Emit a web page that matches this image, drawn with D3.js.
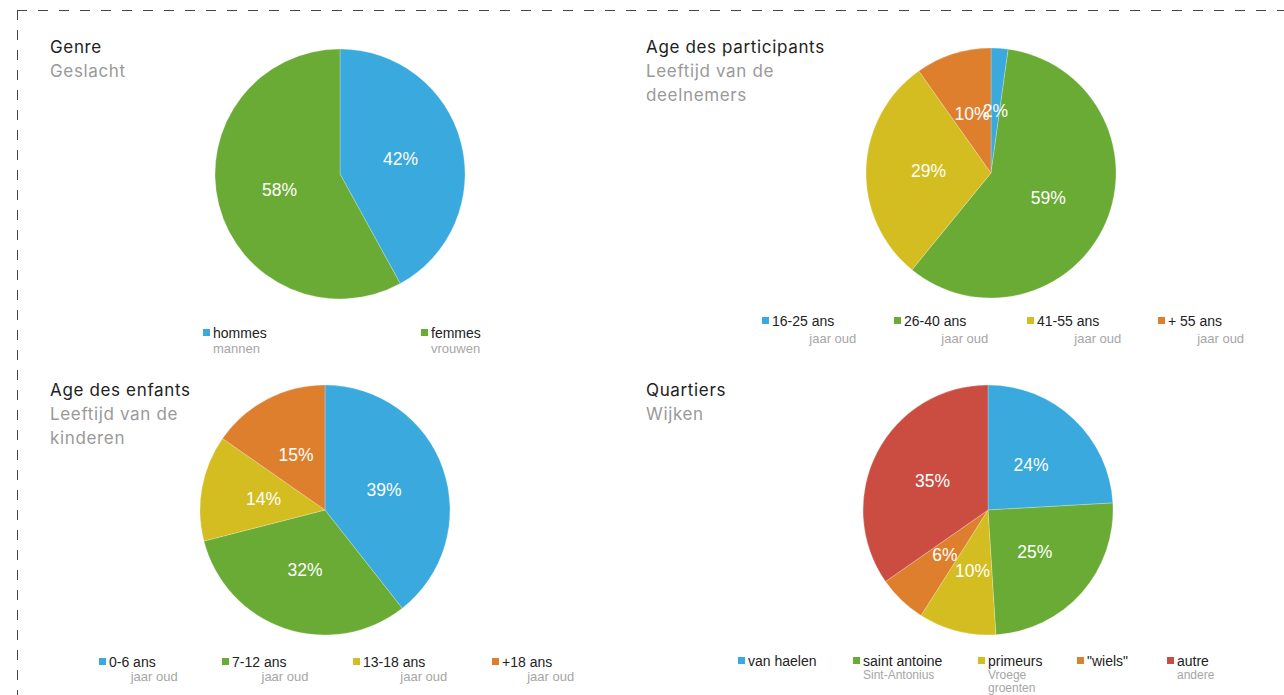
<!DOCTYPE html>
<html>
<head>
<meta charset="utf-8">
<script src="https://cdn.jsdelivr.net/npm/d3@7"></script>
<style>
  html, body { margin: 0; padding: 0; background: #fff; }
  svg { display: block; }
</style>
</head>
<body>
<svg id="chart" width="1284" height="695"></svg>
<script>
// ---------- DATA ----------
const genreLabels = ["hommes", "femmes"];
const genreSub = ["mannen", "vrouwen"];
const genreValues = [42, 58];

const participantLabels = ["16-25 ans", "26-40 ans", "41-55 ans", "+ 55 ans"];
const participantSub = ["jaar oud", "jaar oud", "jaar oud", "jaar oud"];
const participantValues = [2.2, 58.7, 29.3, 9.8];

const enfantLabels = ["0-6 ans", "7-12 ans", "13-18 ans", "+18 ans"];
const enfantSub = ["jaar oud", "jaar oud", "jaar oud", "jaar oud"];
const enfantValues = [39.4, 31.6, 13.7, 15.3];

const quartierLabels = ["van haelen", "saint antoine", "primeurs", "\"wiels\"", "autre"];
const quartierSub = [[], ["Sint-Antonius"], ["Vroege", "groenten"], [], ["andere"]];
const quartierValues = [24.1, 24.9, 10.0, 6.3, 34.7];

const palette = ["#39a9de", "#6aab35", "#d3bd20", "#de7f2d", "#cb4d41"];

// ---------- LAYOUT ----------
const charts = [
  { title: ["Genre"], sub: ["Geslacht"], tx: 50, ty: 53,
    cx: 340, cy: 174, r: 125,
    labels: genreLabels, subs: genreSub.map(s => [s]), values: genreValues,
    legendX: [203, 421], legendY: 338, subY: 353, subSize: 13, subGap: 14, subAlign: "left" },
  { title: ["Age des participants"], sub: ["Leeftijd van de", "deelnemers"], tx: 646, ty: 53,
    cx: 991, cy: 173, r: 125,
    labels: participantLabels, subs: participantSub.map(s => [s]), values: participantValues,
    legendX: [762, 894, 1027, 1158], legendY: 326, subY: 343, subSize: 13, subGap: 14, subAlign: "right" },
  { title: ["Age des enfants"], sub: ["Leeftijd van de", "kinderen"], tx: 50, ty: 396,
    cx: 325, cy: 510, r: 125,
    labels: enfantLabels, subs: enfantSub.map(s => [s]), values: enfantValues,
    legendX: [99, 222, 353, 492], legendY: 667, subY: 681, subSize: 13, subGap: 14, subAlign: "right" },
  { title: ["Quartiers"], sub: ["Wijken"], tx: 646, ty: 396,
    cx: 988, cy: 510, r: 125,
    labels: quartierLabels, subs: quartierSub, values: quartierValues,
    legendX: [738, 853, 978, 1077, 1167], legendY: 666, subY: 679, subSize: 12, subGap: 12.5, subAlign: "left" }
];

const svg = d3.select("#chart");

// dashed frame
svg.append("line").attr("x1", 17).attr("y1", 10.5).attr("x2", 1300).attr("y2", 10.5)
  .attr("stroke", "#444").attr("stroke-width", 1).attr("stroke-dasharray", "10 11");
svg.append("line").attr("x1", 17.5).attr("y1", 10).attr("x2", 17.5).attr("y2", 710)
  .attr("stroke", "#444").attr("stroke-width", 1).attr("stroke-dasharray", "10 10");

const pie = d3.pie().sort(null).value(d => d);
const titleFont = "Inter, 'Open Sans', sans-serif";
const legendFont = "'Liberation Sans', Arial, sans-serif";

charts.forEach(c => {
  const g = svg.append("g");

  // titles
  c.title.forEach((t, i) => {
    g.append("text").attr("x", c.tx).attr("y", c.ty + i * 24).text(t)
      .attr("font-family", titleFont).attr("font-size", 17)
      .attr("letter-spacing", "0.65px").attr("fill", "#222");
  });
  c.sub.forEach((t, i) => {
    g.append("text").attr("x", c.tx).attr("y", c.ty + (c.title.length + i) * 24 - 0.5).text(t)
      .attr("font-family", titleFont).attr("font-size", 17)
      .attr("letter-spacing", "0.65px").attr("fill", "#999");
  });

  // pie
  const total = d3.sum(c.values);
  const arcs = pie(c.values);
  const arc = d3.arc().innerRadius(0).outerRadius(c.r);
  const color = d3.scaleOrdinal().domain(d3.range(c.values.length)).range(palette);
  const pg = g.append("g").attr("transform", `translate(${c.cx},${c.cy})`);
  pg.selectAll("path").data(arcs).join("path")
    .attr("d", arc).attr("fill", (d, i) => color(i))
    .attr("stroke", "#ffffff").attr("stroke-width", 0.4).attr("stroke-opacity", 0.6);
  pg.selectAll("text").data(arcs).join("text")
    .attr("transform", d => `translate(${arc.centroid(d)})`)
    .attr("text-anchor", "middle").attr("dy", "0.36em")
    .attr("font-family", legendFont).attr("font-size", 17.5)
    .attr("fill", "#fff")
    .text(d => Math.round(d.value / total * 100) + "%");

  // legend
  c.labels.forEach((lab, i) => {
    const x = c.legendX[i];
    g.append("rect").attr("x", x).attr("y", c.legendY - 9).attr("width", 7).attr("height", 7)
      .attr("fill", color(i));
    const t = g.append("text").attr("x", x + 10).attr("y", c.legendY).text(lab)
      .attr("font-family", legendFont).attr("font-size", 14)
      .attr("fill", "#222");
    const w = t.node().getComputedTextLength();
    (c.subs[i] || []).forEach((s, j) => {
      const st = g.append("text").attr("y", c.subY + j * c.subGap).text(s)
        .attr("font-family", legendFont).attr("font-size", c.subSize)
        .attr("fill", "#a6a6a6");
      if (c.subAlign === "left") {
        st.attr("x", x + 10);
      } else {
        st.attr("x", x + 10 + w + 22).attr("text-anchor", "end");
      }
    });
  });
});
</script>
</body>
</html>
